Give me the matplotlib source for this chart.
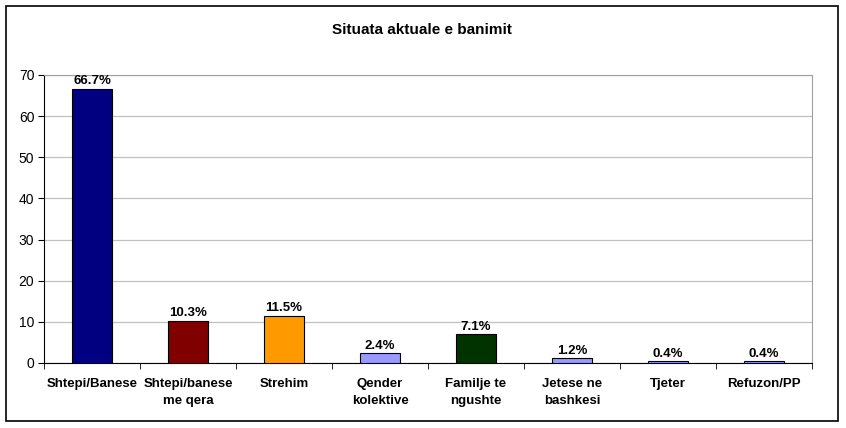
import matplotlib
matplotlib.use("Agg")
import matplotlib.pyplot as plt
from matplotlib.patches import Rectangle

plt.rcParams['font.family'] = ['Liberation Sans', 'DejaVu Sans']

categories = ["Shtepi/Banese", "Shtepi/banese\nme qera", "Strehim", "Qender\nkolektive",
              "Familje te\nngushte", "Jetese ne\nbashkesi", "Tjeter", "Refuzon/PP"]
values = [66.7, 10.3, 11.5, 2.4, 7.1, 1.2, 0.4, 0.4]
labels = ["66.7%", "10.3%", "11.5%", "2.4%", "7.1%", "1.2%", "0.4%", "0.4%"]
colors = ["#000080", "#800000", "#FF9900", "#9999FF", "#003300", "#9999FF", "#9999FF", "#9999FF"]
yticks = [0, 10, 20, 30, 40, 50, 60, 70]

W, H = 846, 428
fig = plt.figure(figsize=(W/100, H/100), dpi=100)
fig.patches.append(Rectangle((6/W, 1 - 421/H), 832/W, 415/H, transform=fig.transFigure,
                             fill=False, edgecolor="black", linewidth=1.2))
ax = fig.add_axes([44/W, 1 - 363/H, 768/W, 288/H])

x = list(range(len(values)))
ax.bar(x, values, width=0.41, color=colors, edgecolor="black", linewidth=0.8, zorder=3)
for xi, v, lab in zip(x, values, labels):
    ax.text(xi, v + 0.3, lab, ha="center", va="bottom", fontsize=9.5, fontweight="bold", zorder=4)

ax.set_xlim(-0.5, len(values) - 0.5)
ax.set_ylim(0, 70)
ax.set_yticks(yticks)
ax.set_yticklabels([str(t) for t in yticks], fontsize=10)
ax.yaxis.grid(True, color="#C0C0C0", linewidth=0.9, zorder=0)
ax.set_axisbelow(True)

ax.set_xticks(x)
ax.set_xticklabels(categories, fontsize=9.5, fontweight="bold", linespacing=1.5)
ax.tick_params(axis="x", length=0, pad=11)
ax.set_xticks([i + 0.5 for i in range(-1, len(values))], minor=True)
ax.tick_params(axis="x", which="minor", length=4, direction="out", color="black")
ax.tick_params(axis="y", length=4, direction="out", pad=3)

for s in ["top", "right"]:
    ax.spines[s].set_color("#A0A0A0")
ax.spines["left"].set_color("black")
ax.spines["bottom"].set_color("black")

fig.text(422/W, 1 - 30/H, "Situata aktuale e banimit", ha="center", va="center",
         fontsize=11, fontweight="bold")

fig.savefig("out.png", dpi=100)
